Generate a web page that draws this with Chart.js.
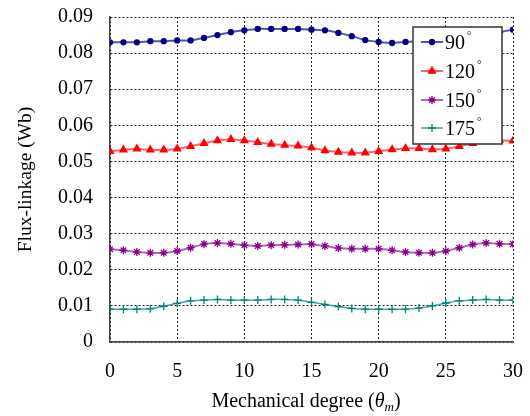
<!DOCTYPE html>
<html lang="en">
<head>
<meta charset="UTF-8">
<title>Flux-linkage</title>
<script src="https://cdn.jsdelivr.net/npm/chart.js"></script>
<style>
    body { margin: 0; background: #fff; }
    #grafico { display: block; }
</style>
</head>
<body>
<canvas id="grafico" width="530" height="416"></canvas>
<script>
    // mechanical degree (x) and flux-linkage values per current angle
    const degrees = [0, 1, 2, 3, 4, 5, 6, 7, 8, 9, 10, 11, 12, 13, 14, 15, 16, 17, 18, 19, 20, 21, 22, 23, 24, 25, 26, 27, 28, 29, 30];
    const flux90 = [0.0830, 0.0830, 0.0830, 0.0833, 0.0833, 0.0835, 0.0835, 0.0842, 0.0850, 0.0858, 0.0863, 0.0867, 0.0867, 0.0867, 0.0867, 0.0865, 0.0863, 0.0856, 0.0847, 0.0836, 0.0831, 0.0828, 0.0831, 0.0833, 0.0833, 0.0835, 0.0836, 0.0842, 0.0850, 0.0858, 0.0865];
    const flux120 = [0.0528, 0.0532, 0.0535, 0.0532, 0.0532, 0.0535, 0.0542, 0.0550, 0.0558, 0.0561, 0.0558, 0.0553, 0.0548, 0.0545, 0.0543, 0.0538, 0.0530, 0.0526, 0.0524, 0.0524, 0.0528, 0.0533, 0.0536, 0.0536, 0.0533, 0.0535, 0.0542, 0.0550, 0.0556, 0.0559, 0.0557];
    const flux150 = [0.0257, 0.0254, 0.0249, 0.0247, 0.0247, 0.0252, 0.0261, 0.0271, 0.0274, 0.0272, 0.0268, 0.0266, 0.0268, 0.0269, 0.0270, 0.0271, 0.0266, 0.0260, 0.0258, 0.0258, 0.0258, 0.0254, 0.0249, 0.0247, 0.0247, 0.0252, 0.0261, 0.0270, 0.0274, 0.0272, 0.0271];
    const flux175 = [0.0091, 0.0091, 0.0091, 0.0092, 0.0099, 0.0107, 0.0114, 0.0116, 0.0118, 0.0116, 0.0116, 0.0116, 0.0118, 0.0118, 0.0116, 0.0110, 0.0104, 0.0098, 0.0093, 0.0091, 0.0091, 0.0091, 0.0091, 0.0094, 0.0100, 0.0108, 0.0114, 0.0116, 0.0118, 0.0116, 0.0116];
    const angleLabels = ['90', '120', '150', '175'];

    const serif = "'Liberation Serif', 'Times New Roman', serif";

    const estilos = [
        { line: 'rgba(40, 40, 160, 0.8)', point: '#000080', pointStyle: 'circle', radius: 2.5, width: 2 },
        { line: 'rgba(255, 70, 70, 0.85)', point: '#ff0000', pointStyle: 'triangle', radius: 4, width: 2 },
        { line: 'rgba(170, 60, 170, 0.8)', point: '#8b008b', pointStyle: 'star', radius: 4, width: 2 },
        { line: 'rgba(40, 150, 150, 0.85)', point: '#008080', pointStyle: 'cross', radius: 4, width: 1.5 }
    ];

    const series = [flux90, flux120, flux150, flux175];

    const datasets = series.map((valores, i) => ({
        label: angleLabels[i] + '°',
        data: degrees.map((d, j) => ({ x: d, y: valores[j] })),
        borderColor: estilos[i].line,
        borderWidth: estilos[i].width,
        backgroundColor: estilos[i].point,
        pointBackgroundColor: estilos[i].point,
        pointBorderColor: estilos[i].point,
        pointBorderWidth: 1.3,
        pointStyle: estilos[i].pointStyle,
        pointRadius: estilos[i].radius,
        tension: 0.2,
        fill: false
    }));

    // legend box and the x title (italic theta, subscript m) drawn by hand
    const extras = {
        id: 'extras',
        afterDraw(chart) {
            const ctx = chart.ctx;
            ctx.save();

            // legend
            const bx = 413, by = 27, bw = 89, bh = 117;
            ctx.fillStyle = '#fff';
            ctx.fillRect(bx, by, bw, bh);
            ctx.strokeStyle = '#333';
            ctx.lineWidth = 1.5;
            ctx.strokeRect(bx, by, bw, bh);
            const linhas = [42, 71, 100, 128];
            linhas.forEach((y, i) => {
                ctx.strokeStyle = estilos[i].line;
                ctx.lineWidth = estilos[i].width;
                ctx.beginPath();
                ctx.moveTo(421, y);
                ctx.lineTo(443, y);
                ctx.stroke();
                ctx.fillStyle = estilos[i].point;
                ctx.strokeStyle = estilos[i].point;
                ctx.lineWidth = 1.3;
                Chart.helpers.drawPoint(ctx, {
                    pointStyle: estilos[i].pointStyle,
                    radius: estilos[i].radius,
                    rotation: 0,
                    borderWidth: 1.3
                }, 432, y);
                ctx.fillStyle = '#000';
                ctx.textBaseline = 'alphabetic';
                ctx.textAlign = 'left';
                ctx.font = '20px ' + serif;
                ctx.fillText(angleLabels[i], 445, y + 7);
                const w = ctx.measureText(angleLabels[i]).width;
                ctx.font = '11px ' + serif;
                ctx.fillText('°', 445 + w + 2, y - 3);
            });

            // x axis title
            const partes = [
                { t: 'Mechanical degree (', f: '20px ' + serif, dy: 0 },
                { t: 'θ', f: 'italic 20px ' + serif, dy: 0 },
                { t: 'm', f: 'italic 13px ' + serif, dy: 4 },
                { t: ')', f: '20px ' + serif, dy: 0 }
            ];
            let total = 0;
            partes.forEach(p => { ctx.font = p.f; p.w = ctx.measureText(p.t).width; total += p.w; });
            let x = 306 - total / 2;
            ctx.fillStyle = '#000';
            ctx.textAlign = 'left';
            ctx.textBaseline = 'alphabetic';
            partes.forEach(p => {
                ctx.font = p.f;
                ctx.fillText(p.t, x, 407 + p.dy);
                x += p.w;
            });
            ctx.restore();
        }
    };

    const ctx = document.getElementById('grafico').getContext('2d');
    const myChart = new Chart(ctx, {
        type: 'line',
        data: { datasets: datasets },
        options: {
            responsive: false,
            animation: false,
            layout: { padding: { top: 17, right: 17, left: 0, bottom: 0 } },
            plugins: {
                legend: { display: false },
                tooltip: { enabled: false }
            },
            scales: {
                x: {
                    type: 'linear',
                    min: 0,
                    max: 30,
                    afterFit: (scale) => {
                        scale.height = 74;
                        scale.paddingLeft = 0;
                        scale.paddingRight = 0;
                    },
                    ticks: {
                        stepSize: 5,
                        padding: 18,
                        color: '#000',
                        font: { family: serif, size: 20 }
                    },
                    grid: {
                        color: '#222',
                        lineWidth: 1,
                        drawTicks: false
                    },
                    border: { display: true, color: '#444', width: 1.5, dash: [2, 2] }
                },
                y: {
                    min: 0,
                    max: 0.09,
                    afterFit: (scale) => {
                        scale.width = 110;
                        scale.paddingTop = 0;
                        scale.paddingBottom = 0;
                    },
                    ticks: {
                        stepSize: 0.01,
                        padding: 17,
                        color: '#000',
                        font: { family: serif, size: 20 },
                        callback: (v) => v === 0 ? '0' : v.toFixed(2)
                    },
                    grid: {
                        color: '#222',
                        lineWidth: 1,
                        drawTicks: false
                    },
                    border: { display: true, color: '#444', width: 1.5, dash: [2, 2] },
                    title: {
                        display: true,
                        text: 'Flux-linkage (Wb)',
                        color: '#000',
                        font: { family: serif, size: 19.5 },
                        padding: { top: 14, bottom: 0 }
                    }
                }
            }
        },
        plugins: [extras]
    });
</script>
</body>
</html>
